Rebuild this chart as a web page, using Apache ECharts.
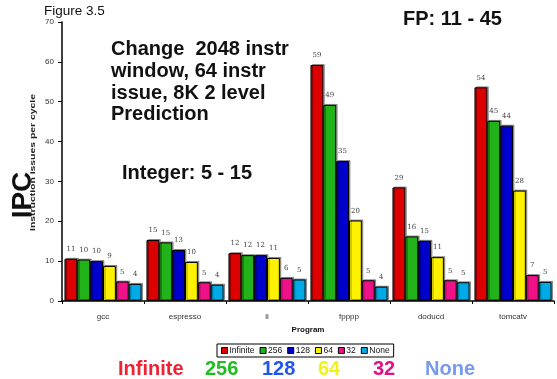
<!DOCTYPE html>
<html>
<head>
<meta charset="utf-8">
<script src="https://cdn.jsdelivr.net/npm/echarts@6/dist/echarts.min.js"></script>
<style>
  html, body { margin: 0; padding: 0; background: #fff; }
  #main { width: 557px; height: 379px; }
</style>
</head>
<body>
<div id="main"></div>
<script>
// programs on the x axis
var programs = ['gcc', 'espresso', 'li', 'fpppp', 'doducd', 'tomcatv'];
// IPC per window size
var infinite = [10.6, 15.3, 12.0, 59.2, 28.5, 53.6];
var w256 = [10.4, 14.7, 11.5, 49.2, 16.2, 45.2];
var w128 = [10.0, 12.8, 11.5, 35.1, 15.1, 44.0];
var w64 = [8.8, 9.8, 10.8, 20.2, 11.0, 27.7];
var w32 = [4.9, 4.7, 5.8, 5.2, 5.2, 6.5];
var wNone = [4.3, 4.1, 5.4, 3.6, 4.7, 4.8];
var yTicks = [0, 10, 20, 30, 40, 50, 60, 70];

var names = ['Infinite', '256', '128', '64', '32', 'None'];
var colors = ['#dd0000', '#22b31a', '#0000cc', '#fff200', '#ee1188', '#00aae6'];
var allData = [infinite, w256, w128, w64, w32, wNone];

var myChart = echarts.init(document.getElementById('main'));

var series = [];
for (var i = 0; i < names.length; i++) {
	series.push({
		name: names[i],
		type: 'bar',
		data: allData[i],
		barGap: '0%',
		barCategoryGap: '6%',
		itemStyle: {
			color: colors[i],
			borderColor: '#000',
			borderWidth: 1,
			shadowColor: 'rgba(0,0,0,0.35)',
			shadowOffsetX: 1.5,
			shadowOffsetY: -1
		},
		label: {
			show: true,
			position: 'top',
			distance: 6,
			fontFamily: 'DejaVu Serif',
			fontSize: 7,
			color: '#444',
			formatter: function (p) { return Math.round(p.value); }
		}
	});
}

var option = {
	animation: false,
	backgroundColor: '#fff',
	grid: { left: 62, right: 3, top: 22, bottom: 78 },
	title: [
		{ text: 'Figure 3.5', left: 44, top: 4, padding: 0, textStyle: { fontFamily: 'Liberation Sans', fontSize: 13.5, fontWeight: 'normal', color: '#111' } },
		{ text: 'FP: 11 - 45', left: 403, top: 9, padding: 0, textStyle: { fontFamily: 'Liberation Sans', fontSize: 20, fontWeight: 'bold', color: '#111' } },
		{ text: 'Change  2048 instr\nwindow, 64 instr\nissue, 8K 2 level\nPrediction', left: 111, top: 39, padding: 0,
		  textStyle: { fontFamily: 'Liberation Sans', fontSize: 20, fontWeight: 'bold', color: '#111', lineHeight: 21.7 } },
		{ text: 'Integer: 5 - 15', left: 122, top: 163, padding: 0, textStyle: { fontFamily: 'Liberation Sans', fontSize: 20, fontWeight: 'bold', color: '#111' } }
	],
	legend: {
		data: names,
		left: 217,
		top: 344,
		itemWidth: 6,
		itemHeight: 6,
		itemGap: 5,
		padding: [2, 4],
		borderColor: '#000',
		borderWidth: 1,
		icon: 'rect',
		itemStyle: { borderColor: '#000', borderWidth: 1 },
		textStyle: { fontFamily: 'Liberation Sans', fontSize: 8.5, color: '#111', padding: [0, 0, 0, -3] }
	},
	xAxis: {
		type: 'category',
		data: programs,
		name: 'Program',
		nameLocation: 'middle',
		nameGap: 24,
		nameTextStyle: { fontFamily: 'Liberation Sans', fontSize: 8, fontWeight: 'bold', color: '#111' },
		axisLine: { lineStyle: { color: '#000', width: 1.5 } },
		axisTick: { show: true, length: 3, lineStyle: { color: '#000' } },
		axisLabel: { fontFamily: 'Liberation Sans', fontSize: 8, color: '#333', margin: 12 }
	},
	yAxis: {
		type: 'value',
		min: 0,
		max: 70,
		interval: 10,
		splitLine: { show: false },
		axisLine: { show: true, lineStyle: { color: '#000', width: 1.5 } },
		axisTick: { show: true, length: 4, lineStyle: { color: '#000' } },
		axisLabel: { fontFamily: 'Liberation Sans', fontSize: 8, color: '#333', margin: 8,
			formatter: function (v) { return yTicks.indexOf(v) >= 0 ? v : ''; } }
	},
	graphic: [
		{ type: 'text', x: 23, y: 195, rotation: Math.PI / 2,
		  style: { text: 'IPC', fontFamily: 'Liberation Sans', fontSize: 28, fontWeight: 'bold', fill: '#111', align: 'center', verticalAlign: 'middle' } },
		{ type: 'text', x: 33, y: 162.5, rotation: Math.PI / 2, scaleX: 1.3,
		  style: { text: 'Instruction issues per cycle', fontFamily: 'Liberation Sans', fontSize: 8, fontWeight: 'bold', fill: '#222', align: 'center', verticalAlign: 'middle' } },
		{ type: 'text', left: 118, top: 359, style: { text: 'Infinite', fontFamily: 'Liberation Sans', fontSize: 20, fontWeight: 'bold', fill: '#ee2233' } },
		{ type: 'text', left: 205, top: 359, style: { text: '256', fontFamily: 'Liberation Sans', fontSize: 20, fontWeight: 'bold', fill: '#22bb22' } },
		{ type: 'text', left: 262, top: 359, style: { text: '128', fontFamily: 'Liberation Sans', fontSize: 20, fontWeight: 'bold', fill: '#2255ee' } },
		{ type: 'text', left: 318, top: 359, style: { text: '64', fontFamily: 'Liberation Sans', fontSize: 20, fontWeight: 'bold', fill: '#f2f21a' } },
		{ type: 'text', left: 373, top: 359, style: { text: '32', fontFamily: 'Liberation Sans', fontSize: 20, fontWeight: 'bold', fill: '#e0108a' } },
		{ type: 'text', left: 425, top: 359, style: { text: 'None', fontFamily: 'Liberation Sans', fontSize: 20, fontWeight: 'bold', fill: '#7799ee' } }
	],
	series: series
};
myChart.setOption(option);
</script>
</body>
</html>
